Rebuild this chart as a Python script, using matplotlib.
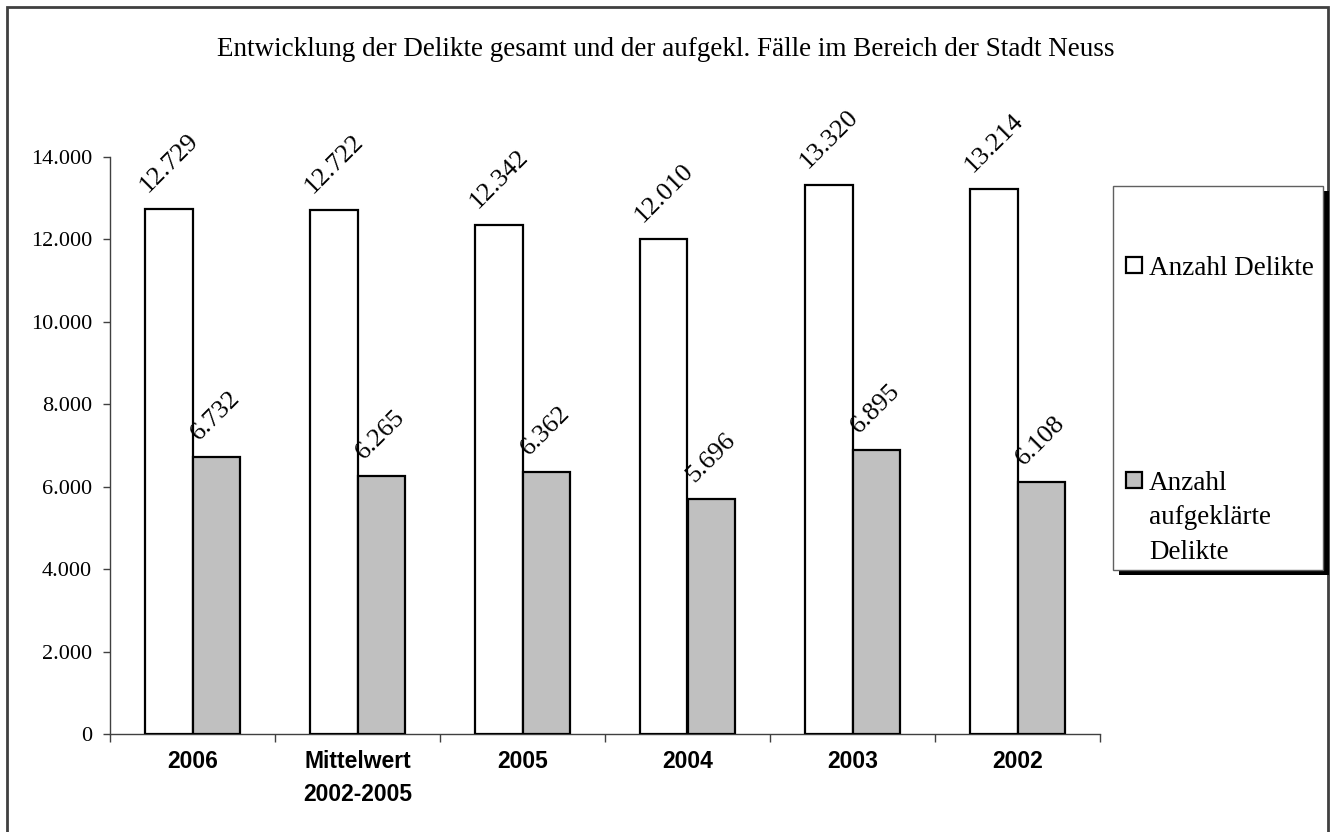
import numpy as np
from matplotlib import pyplot as plt
from matplotlib.patches import Rectangle

# values
categories = ['2006', 'Mittelwert\n2002-2005', '2005', '2004', '2003', '2002']
delikte = [12729, 12722, 12342, 12010, 13320, 13214]
aufgeklaert = [6732, 6265, 6362, 5696, 6895, 6108]
yticks = [0, 2000, 4000, 6000, 8000, 10000, 12000, 14000]
labels = ['Anzahl Delikte', 'Anzahl\naufgeklärte\nDelikte']
title = 'Entwicklung der Delikte gesamt und der aufgekl. Fälle im Bereich der Stadt Neuss'

W, H = 1332, 832


def fx(px):
    return px / W


def fy(py):
    return 1 - py / H


def de_format(v):
    return f'{int(v):,}'.replace(',', '.')


serif = 'Liberation Serif'
sans = 'Liberation Sans'

fig = plt.figure(figsize=(W / 100, H / 100), dpi=100)
ax = fig.add_axes([fx(110), fy(734), fx(1100) - fx(110), fy(157) - fy(734)])

x = np.arange(len(categories))
bw = 0.285
grey = '#C0C0C0'
b1 = ax.bar(x - bw / 2, delikte, bw, color='white', edgecolor='black', linewidth=1.6, zorder=3)
b2 = ax.bar(x + bw / 2, aufgeklaert, bw, color=grey, edgecolor='black', linewidth=1.6, zorder=3)

# rotated value labels above each bar
for bars in (b1, b2):
    for r in bars:
        v = r.get_height()
        ax.annotate(de_format(v), (r.get_x() + r.get_width() / 2, v),
                    xytext=(0, 9), textcoords='offset points',
                    ha='center', va='bottom', rotation=45,
                    fontsize=19, family=serif)

ax.set_xlim(-0.5, len(categories) - 0.5)
ax.set_ylim(0, 14000)
ax.set_yticks(yticks)
ax.set_yticklabels([de_format(v) for v in yticks], fontsize=16, family=serif)
ax.tick_params(axis='y', length=5, width=1, pad=8, color='#404040')

# category ticks sit at the group boundaries
ax.set_xticks(np.arange(len(categories) + 1) - 0.5)
ax.set_xticklabels([])
ax.tick_params(axis='x', length=6, width=1, color='#404040')
for i, c in enumerate(categories):
    ax.text(i, -0.028, c, transform=ax.get_xaxis_transform(), ha='center', va='top',
            fontsize=16.5, fontweight='bold', family=sans, linespacing=1.55)

for s in ('top', 'right'):
    ax.spines[s].set_visible(False)
for s in ('left', 'bottom'):
    ax.spines[s].set_color('#404040')
    ax.spines[s].set_linewidth(1)

fig.text(0.5, fy(50), title, ha='center', va='center', fontsize=19.5, family=serif)

# outer chart border (bottom edge runs off the image)
fig.patches.append(Rectangle((fx(7), -0.05), fx(1328) - fx(7), fy(7) + 0.05,
                             transform=fig.transFigure, fill=False,
                             edgecolor='#404040', linewidth=2))

# legend box with black shadow
lx0, ly0, lx1, ly1 = 1113, 186, 1323, 570
fig.patches.append(Rectangle((fx(lx0 + 6), fy(ly1 + 5)), fx(lx1) - fx(lx0), fy(ly0) - fy(ly1),
                             transform=fig.transFigure, facecolor='black', edgecolor='none'))
fig.patches.append(Rectangle((fx(lx0), fy(ly1)), fx(lx1) - fx(lx0), fy(ly0) - fy(ly1),
                             transform=fig.transFigure, facecolor='white',
                             edgecolor='#606060', linewidth=1))
for col, lab, yc in zip(['white', grey], labels, [265, 480]):
    fig.patches.append(Rectangle((fx(1126), fy(yc + 8)), fx(16), 16 / H,
                                 transform=fig.transFigure, facecolor=col,
                                 edgecolor='black', linewidth=1.6))
    fig.text(fx(1149), fy(yc - 9), lab, ha='left', va='top', fontsize=19.5,
             family=serif, linespacing=1.5, multialignment='left')

fig.savefig('out.png', dpi=100)
